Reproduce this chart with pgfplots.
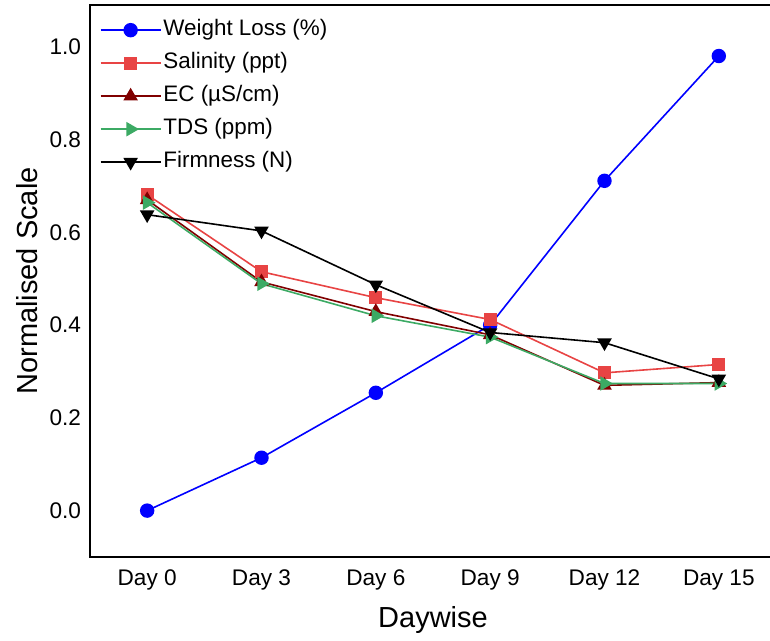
\documentclass[border=0pt]{standalone}
\usepackage{pgfplots}
\pgfplotsset{compat=1.18}
\usepackage{fontspec}
\setmainfont{Liberation Sans}
\definecolor{wl}{RGB}{0,0,255}
\definecolor{sal}{RGB}{232,68,68}
\definecolor{ec}{RGB}{128,0,0}
\definecolor{tds}{RGB}{60,170,100}
\begin{document}
\begin{tikzpicture}
\useasboundingbox (-45pt,-42pt) rectangle (340pt,278.5pt);
\clip (-45pt,-42pt) rectangle (340pt,278.5pt);
\begin{axis}[
  at={(0,0)}, anchor=south west,
  scale only axis, width=343pt, height=276pt,
  xmin=-0.5, xmax=5.5, ymin=-0.1, ymax=1.09,
  xtick={0,1,2,3,4,5},
  xticklabels={Day 0, Day 3, Day 6, Day 9, Day 12, Day 15},
  ytick={0,0.2,0.4,0.6,0.8,1.0},
  /pgf/number format/fixed, /pgf/number format/fixed zerofill,
  /pgf/number format/precision=1, /pgf/number format/assume math mode=true,
  major tick length=0pt,
  tick label style={font=\fontsize{11.3}{12}\selectfont},
  yticklabel style={xshift=-1pt},
  xticklabel style={yshift=-3pt},
  axis line style={line width=1pt},
  xlabel={Daywise}, ylabel={Normalised Scale},
  label style={font=\fontsize{14.5}{16}\selectfont},
  xlabel style={yshift=-1pt},
  ylabel style={yshift=-1pt},
  legend style={at={(0.005,0.985)}, anchor=north west, draw=none, fill=none,
    font=\fontsize{11.2}{12}\selectfont, row sep=4pt,
    nodes={inner sep=1pt, text height=8pt, text depth=2.5pt},
    /tikz/every even column/.append style={column sep=3pt}},
  legend cell align=left,
  legend image code/.code={\draw[mark repeat=2,mark phase=2,line width=0.8pt] plot coordinates {(0pt,0pt)(15pt,0pt)(30pt,0pt)};},
  every axis plot/.append style={line width=0.8pt},
]
\addplot[color=wl, mark=*, mark size=3.2pt] coordinates {(0,0.0)(1,0.114)(2,0.254)(3,0.400)(4,0.711)(5,0.980)};
\addlegendentry{Weight Loss (\%)}
\addplot[color=sal, mark=square*, mark size=2.8pt] coordinates {(0,0.681)(1,0.515)(2,0.459)(3,0.412)(4,0.297)(5,0.315)};
\addlegendentry{Salinity (ppt)}
\addplot[color=ec, mark=triangle*, mark size=3.4pt] coordinates {(0,0.670)(1,0.493)(2,0.429)(3,0.379)(4,0.270)(5,0.276)};
\addlegendentry{EC (µS/cm)}
\addplot[color=tds, mark=triangle*, mark options={rotate=-90}, mark size=3.4pt] coordinates {(0,0.664)(1,0.489)(2,0.420)(3,0.374)(4,0.274)(5,0.274)};
\addlegendentry{TDS (ppm)}
\addplot[color=black, mark=triangle*, mark options={rotate=180}, mark size=3.4pt] coordinates {(0,0.638)(1,0.603)(2,0.487)(3,0.384)(4,0.362)(5,0.284)};
\addlegendentry{Firmness (N)}
\end{axis}
\end{tikzpicture}
\end{document}
